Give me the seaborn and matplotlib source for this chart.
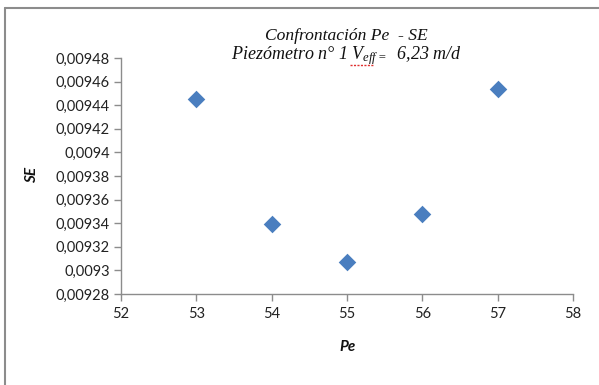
import matplotlib
matplotlib.use("Agg")
import matplotlib.pyplot as plt
from matplotlib.lines import Line2D
import seaborn as sns
import pandas as pd

pe = [53, 54, 55, 56, 57]
se = [0.009445, 0.009339, 0.009307, 0.009348, 0.009454]
x_ticks = [52, 53, 54, 55, 56, 57, 58]
y_ticks = [0.00928, 0.0093, 0.00932, 0.00934, 0.00936, 0.00938, 0.0094,
           0.00942, 0.00944, 0.00946, 0.00948]
y_labels = ["0,00928", "0,0093", "0,00932", "0,00934", "0,00936", "0,00938",
            "0,0094", "0,00942", "0,00944", "0,00946", "0,00948"]

df = pd.DataFrame({"Pe": pe, "SE": se})

sns.set_theme(style="white")
plt.rcParams["font.family"] = ["Lato", "DejaVu Sans"]
plt.rcParams["mathtext.fontset"] = "custom"
plt.rcParams["mathtext.it"] = "Liberation Serif:italic"
plt.rcParams["mathtext.rm"] = "Liberation Serif:italic"

W, H = 599, 385
L, R, B, T = 121, 573, 294, 58

fig = plt.figure(figsize=(5.99, 3.85), dpi=100)
ax = fig.add_axes([L/W, 1-B/H, (R-L)/W, (B-T)/H])

sns.scatterplot(data=df, x="Pe", y="SE", ax=ax, marker="D", s=80,
                color="#4A7EBF", edgecolor="#4A7EBF", linewidth=0, zorder=3)

ax.set_xlim(52, 58)
ax.set_ylim(0.00928, 0.00948)
ax.set_xticks(x_ticks)
ax.set_xticklabels([str(v) for v in x_ticks])
ax.set_yticks(y_ticks)
ax.set_yticklabels(y_labels)

for s in ["top", "right"]:
    ax.spines[s].set_visible(False)
for s in ["left", "bottom"]:
    ax.spines[s].set_color("#8c8c8c")
    ax.spines[s].set_linewidth(1.0)
ax.tick_params(axis="both", which="major", length=5, width=1, color="#8c8c8c",
               direction="out", labelsize=10.5, labelcolor="#222222", pad=3)
ax.tick_params(axis="x", pad=4)
ax.tick_params(left=True, bottom=True)

ax.set_xlabel("Pe", fontsize=11, fontweight="bold", fontstyle="italic", color="#111111")
ax.set_ylabel("SE", fontsize=11, fontweight="bold", fontstyle="italic", color="#111111")
ax.xaxis.set_label_coords((348-L)/(R-L), (B-340)/(B-T))
ax.yaxis.set_label_coords((39-L)/(R-L), (B-175)/(B-T))

serif = ["Liberation Serif", "DejaVu Serif"]
fig.text(346/W, 1-36/H, "Confrontación Pe  - SE", ha="center", va="center",
         fontsize=12.6, fontstyle="italic", family=serif, color="#111111")
fig.text(347/W, 1-56/H, r"Piezómetro n° 1 $V_{eff=}$  6,23 m/d", ha="center", va="center",
         fontsize=13, fontstyle="italic", family=serif, color="#111111")
# spell-check wavy underline under "eff"
fig.add_artist(Line2D([350/W, 373/W], [1-65/H, 1-65/H], transform=fig.transFigure,
                      color="#e03030", lw=1.0, ls=(0, (1.5, 1))))

# chart frame (top and left edges visible)
fig.add_artist(Line2D([5/W, 1], [1-8/H, 1-8/H], transform=fig.transFigure, color="#8c8c8c", lw=1.5))
fig.add_artist(Line2D([5/W, 5/W], [0, 1-8/H], transform=fig.transFigure, color="#8c8c8c", lw=1.5))

fig.savefig("out.png", dpi=100)
